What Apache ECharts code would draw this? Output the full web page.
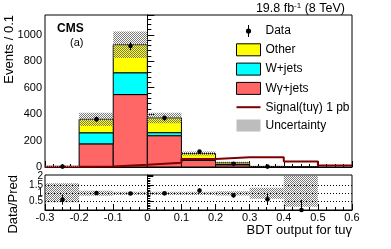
<!DOCTYPE html>
<html><head><meta charset="utf-8">
<script src="https://cdn.jsdelivr.net/npm/echarts@6/dist/echarts.min.js"></script>
<style>html,body{margin:0;padding:0;background:#fff}#c{width:391px;height:249px}</style>
</head><body><div id="c"></div>
<script>
// ---- data ----
const binEdges   = [-0.3, -0.2, -0.1, 0.0, 0.1, 0.2, 0.3, 0.4, 0.5, 0.6];
const xTickLabels = ['-0.3','-0.2','-0.1','0','0.1','0.2','0.3','0.4','0.5','0.6'];
const yMainTicks = [0, 200, 400, 600, 800, 1000];
const yRatioTicks = [0, 0.5, 1, 1.5, 2];
const wgamma   = [2, 175, 548, 237, 50, 17, 2, 0.5, 0];
const wjets    = [0.5, 84, 165, 23, 8, 2, 0.5, 0, 0];
const other    = [1, 102, 212, 111, 44, 13, 2, 0.5, 0];
const bkgErr   = [6, 50, 100, 40, 15, 7, 2, 1, 0];
const signal   = [2, 3, 17, 32, 60, 73, 73, 42, 12];
const dataVals = [3, 362, 915, 370, 116, 25, 3, 0, 0];
const dataErr  = [2, 19, 30, 19, 11, 5, 2, 0, 0];
const ratioVals  = [0.62, 1.02, 0.99, 1.0, 1.17, 0.88, 0.64, 0, null];
const ratioErrLo = [0.3, 0.05, 0.04, 0.06, 0.12, 0.13, 0.34, 0, 0];
const ratioErrHi = [0.3, 0.05, 0.04, 0.06, 0.12, 0.13, 0.39, 0.6, 0];
const ratioBandLo = [0.46, 0.85, 0.9, 0.9, 0.9, 0.87, 0.67, 0.2, 1];
const ratioBandHi = [1.6, 1.15, 1.1, 1.1, 1.1, 1.13, 1.33, 2.1, 1];

// ---- hatch pattern ----
const pc = document.createElement('canvas');
pc.width = 2; pc.height = 2;
const pctx = pc.getContext('2d');
pctx.fillStyle = '#7a7a7a';
pctx.fillRect(0,0,1,1); pctx.fillRect(1,1,1,1);
const hatch = {image: pc, repeat: 'repeat'};

const FONT = 'Liberation Sans, Arial, Helvetica, sans-serif';
const C_OTHER = '#ffff00', C_WJ = '#00ffff', C_WG = '#ff6666', C_SIG = '#7f0000';

function boxSeries(name, lows, highs, fill, stroke, z, xi, yi) {
  const data = lows.map((lo, i) => [binEdges[i], binEdges[i+1], lo, highs[i]]);
  return {
    type: 'custom', name, xAxisIndex: xi, yAxisIndex: yi, z, clip: true,
    itemStyle: {color: fill, borderColor: stroke || 'transparent'},
    encode: {x: [0, 1], y: [2, 3]}, data,
    renderItem: (params, api) => {
      const lo = api.value(2), hi = api.value(3);
      if (!(hi - lo > 0)) return null;
      const p0 = api.coord([api.value(0), lo]);
      const p1 = api.coord([api.value(1), hi]);
      return {type: 'rect',
        shape: {x: p0[0], y: p1[1], width: p1[0] - p0[0], height: p0[1] - p1[1]},
        style: {fill: fill, stroke: stroke || null, lineWidth: stroke ? 1 : 0}};
    }
  };
}

const n = binEdges.length - 1;
const s1 = wgamma.slice();
const s2 = wgamma.map((v, i) => v + wjets[i]);
const s3 = s2.map((v, i) => v + other[i]);
const zeros = new Array(n).fill(0);

function pointSeries(name, vals, lo, hi, xi, yi, z) {
  const data = [];
  vals.forEach((v, i) => {
    if (v === null) return;
    const c = (binEdges[i] + binEdges[i+1]) / 2;
    data.push([c, v, v - lo[i], v + hi[i]]);
  });
  return {
    type: 'custom', name, xAxisIndex: xi, yAxisIndex: yi, z, clip: false,
    itemStyle: {color: '#000'},
    encode: {x: 0, y: [1, 2, 3]}, data,
    renderItem: (params, api) => {
      const p = api.coord([api.value(0), api.value(1)]);
      const a = api.coord([api.value(0), api.value(2)]);
      const b = api.coord([api.value(0), api.value(3)]);
      const x = Math.round(p[0]) + 0.5;
      return {type: 'group', children: [
        {type: 'line', shape: {x1: x, y1: a[1], x2: x, y2: b[1]}, style: {stroke: '#000', lineWidth: 1}},
        {type: 'circle', shape: {cx: x, cy: p[1], r: 2.3}, style: {fill: '#000'}}
      ]};
    }
  };
}

const mainData = dataVals.map(v => v > 0 ? v : null);
const sigLine = binEdges.map((e, i) => [e, signal[Math.min(i, n - 1)]]);

const dataIcon = 'path://M4.5,0H5.5V12H4.5Z M2.4,6A2.6,2.6,0,1,1,7.6,6A2.6,2.6,0,1,1,2.4,6Z';
const lineIcon = 'path://M0,0H24V2H0Z';

const chart = echarts.init(document.getElementById('c'), null, {renderer: 'canvas'});
const axisTxt = {fontFamily: FONT, fontSize: 11, color: '#000'};

chart.setOption({
  animation: false,
  backgroundColor: '#fff',
  textStyle: {fontFamily: FONT},
  grid: [
    {left: 45, right: 39, top: 15, height: 152, show: true, borderColor: '#000', borderWidth: 1, backgroundColor: 'transparent'},
    {left: 45, right: 39, top: 175, height: 35, show: true, borderColor: '#000', borderWidth: 1, backgroundColor: 'transparent'}
  ],
  xAxis: [
    {type: 'value', gridIndex: 0, min: -0.3, max: 0.6, interval: 0.1,
     axisLine: {show: true, lineStyle: {color: '#000'}},
     axisTick: {show: true, inside: true, length: 6, lineStyle: {color: '#000'}},
     minorTick: {show: true, splitNumber: 4, length: 3, lineStyle: {color: '#000'}},
     axisLabel: {show: false}, splitLine: {show: false}},
    {type: 'value', gridIndex: 1, min: -0.3, max: 0.6, interval: 0.1,
     axisLine: {show: true, lineStyle: {color: '#000'}},
     axisTick: {show: true, inside: true, length: 6, lineStyle: {color: '#000'}},
     minorTick: {show: true, splitNumber: 4, length: 3, lineStyle: {color: '#000'}},
     axisLabel: Object.assign({margin: 2, formatter: v => {
        const k = binEdges.findIndex(e => Math.abs(e - v) < 1e-6);
        return k >= 0 ? xTickLabels[k] : '';
     }}, axisTxt),
     splitLine: {show: false}}
  ],
  yAxis: [
    {type: 'value', gridIndex: 0, min: 0, max: 1150, interval: 200,
     axisLine: {show: true, lineStyle: {color: '#000'}},
     axisTick: {show: true, inside: true, length: 7, lineStyle: {color: '#000'}},
     minorTick: {show: true, splitNumber: 5, length: 4, lineStyle: {color: '#000'}},
     axisLabel: Object.assign({margin: 3, formatter: v => yMainTicks.includes(v) ? String(v) : ''}, axisTxt),
     splitLine: {show: false}},
    {type: 'value', gridIndex: 1, min: 0, max: 2.1, interval: 0.5,
     axisLine: {show: true, lineStyle: {color: '#000'}},
     axisTick: {show: true, inside: true, length: 6, lineStyle: {color: '#000'}},
     minorTick: {show: true, splitNumber: 5, length: 3, lineStyle: {color: '#000'}},
     axisLabel: Object.assign({margin: 2, formatter: v => {
        const k = yRatioTicks.findIndex(t => Math.abs(t - v) < 1e-6);
        return k >= 0 ? String(yRatioTicks[k]) : '';
     }}, axisTxt, {fontSize: 10, lineHeight: 10}),
     splitLine: {show: false}}
  ],
  legend: {
    orient: 'vertical', left: 231, top: 20, itemWidth: 24, itemHeight: 12, itemGap: 6.3,
    textStyle: {fontFamily: FONT, fontSize: 12, color: '#000'},
    selectedMode: false,
    data: [
      {name: 'Data', icon: dataIcon, itemStyle: {color: '#000'}},
      {name: 'Other', icon: 'rect', itemStyle: {color: C_OTHER, borderColor: '#000', borderWidth: 1}},
      {name: 'W+jets', icon: 'rect', itemStyle: {color: C_WJ, borderColor: '#000', borderWidth: 1}},
      {name: 'Wγ+jets', icon: 'rect', itemStyle: {color: C_WG, borderColor: '#000', borderWidth: 1}},
      {name: 'Signal(tuγ) 1 pb', icon: lineIcon, itemStyle: {color: C_SIG, borderWidth: 0}},
      {name: 'Uncertainty', icon: 'rect', itemStyle: {color: hatch, borderWidth: 0}}
    ]
  },
  graphic: [
    {type: 'text', x: 345, y: 9, style: {text: '19.8 fb{s|-1} (8 TeV)', rich: {s: {fontSize: 8, verticalAlign: 'top', padding: [0,0,6,0]}}, fontFamily: FONT, fontSize: 12.5, fill: '#000', align: 'right', verticalAlign: 'middle'}},
    {type: 'text', x: 57, y: 29, style: {text: 'CMS', fontFamily: FONT, fontWeight: 'bold', fontSize: 12, fill: '#000', align: 'left', verticalAlign: 'middle'}},
    {type: 'text', x: 70, y: 43, style: {text: '(a)', fontFamily: FONT, fontSize: 11, fill: '#000', align: 'left', verticalAlign: 'middle'}},
    {type: 'text', x: 9, y: 15, rotation: Math.PI / 2, style: {text: 'Events / 0.1', fontFamily: FONT, fontSize: 13, fill: '#000', align: 'right', verticalAlign: 'middle'}},
    {type: 'text', x: 13, y: 175, rotation: Math.PI / 2, style: {text: 'Data/Pred', fontFamily: FONT, fontSize: 13, fill: '#000', align: 'right', verticalAlign: 'middle'}},
    {type: 'text', x: 352, y: 230, style: {text: 'BDT output for tuγ', fontFamily: FONT, fontSize: 13, fill: '#000', align: 'right', verticalAlign: 'middle'}}
  ],
  series: [
    boxSeries('Wγ+jets', zeros, s1, C_WG, '#000', 2, 0, 0),
    boxSeries('W+jets', s1, s2, C_WJ, '#000', 3, 0, 0),
    boxSeries('Other', s2, s3, C_OTHER, '#000', 4, 0, 0),
    {type: 'line', name: 'Signal(tuγ) 1 pb', xAxisIndex: 0, yAxisIndex: 0, z: 5, step: 'end',
     symbol: 'none', showSymbol: false, data: sigLine,
     lineStyle: {color: C_SIG, width: 2}, itemStyle: {color: C_SIG}},
    boxSeries('Uncertainty', s3.map((v, i) => Math.max(0, v - bkgErr[i])), s3.map((v, i) => v + bkgErr[i]), hatch, null, 6, 0, 0),
    pointSeries('Data', mainData, dataErr, dataErr, 0, 0, 8),
    boxSeries('ratioBand', ratioBandLo, ratioBandHi, hatch, null, 3, 1, 1),
    Object.assign(pointSeries('ratioData', ratioVals, ratioErrLo, ratioErrHi, 1, 1, 8), {
      markLine: {silent: true, symbol: 'none', label: {show: false},
        lineStyle: {color: '#000', type: [1, 2], width: 1},
        data: [{yAxis: 0.5}, {yAxis: 1}, {yAxis: 1.5}]}
    })
  ]
});
</script></body></html>
